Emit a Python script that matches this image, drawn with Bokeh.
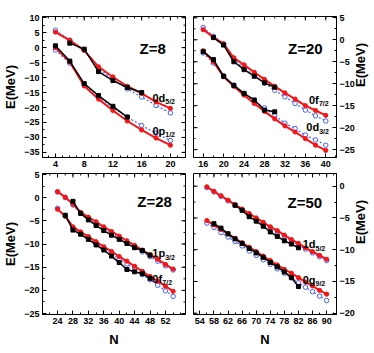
import math
import numpy as np
from bokeh.plotting import figure
from bokeh.layouts import row, column
from bokeh.models import Range1d, FixedTicker, Label
from bokeh.embed import file_html
from bokeh.resources import INLINE

FONT = "Liberation Sans"
RED = "#f51515"
BLUE = "#4060ff"

# ---------------- Z = 8 ----------------
n8 = [4, 6, 8, 10, 12, 14, 16, 18, 20]
z8_d52_th = [5.2, 2.4, -0.9, -6.4, -9.8, -12.9, -15.3, -18.1, -20.3]
z8_d52_ref = [5.8, 2.5, -0.8, -7.0, -10.5, -13.8, -16.5, -19.3, -21.8]
n8_d52_exp = [6, 8, 10, 12, 14, 16]
z8_d52_exp = [1.5, -0.5, -8.0, -11.0, -13.3, -15.0]
z8_p12_th = [0.0, -4.8, -12.8, -17.2, -21.0, -24.5, -27.5, -30.2, -32.6]
z8_p12_ref = [-0.8, -5.2, -12.2, -16.5, -20.0, -23.2, -26.0, -28.6, -31.0]
n8_p12_exp = [4, 6, 8, 10, 12, 14]
z8_p12_exp = [0.6, -4.5, -12.0, -16.0, -19.6, -23.2]

# ---------------- Z = 20 ----------------
n20 = [16, 18, 20, 22, 24, 26, 28, 30, 32, 34, 36, 38, 40]
z20_f72_th = [2.3, 0.6, -0.9, -4.1, -5.7, -7.4, -9.0, -10.6, -12.1, -13.5, -15.0, -16.1, -17.2]
z20_f72_ref = [2.8, 0.8, -1.0, -4.5, -6.5, -8.0, -9.8, -11.5, -13.0, -14.5, -16.0, -17.3, -18.5]
n20_f72_exp = [18, 20, 22, 24, 26, 28, 30]
z20_f72_exp = [0.5, -1.2, -5.0, -6.8, -8.3, -9.8, -10.8]
z20_d32_th = [-2.5, -5.0, -8.4, -10.6, -12.6, -14.5, -16.3, -18.0, -19.6, -21.0, -22.5, -24.0, -25.2]
z20_d32_ref = [-3.0, -5.3, -8.2, -10.3, -12.2, -14.0, -15.5, -17.2, -19.0, -20.2, -21.7, -22.8, -24.0]
n20_d32_exp = [16, 18, 20, 22, 24, 26, 28, 30]
z20_d32_exp = [-2.7, -4.5, -8.3, -10.4, -12.2, -13.7, -16.0, -16.4]

# ---------------- Z = 28 ----------------
n28 = [24, 26, 28, 30, 32, 34, 36, 38, 40, 42, 44, 46, 48, 50, 52, 54]
z28_p32_th = [1.3, 0.1, -1.4, -3.2, -4.2, -5.2, -6.3, -7.3, -8.3, -9.3, -10.3, -11.3, -12.3, -13.3, -14.4, -15.4]
z28_p32_ref = [1.2, 0.0, -1.6, -3.3, -4.4, -5.5, -6.6, -7.6, -8.7, -9.7, -10.7, -11.7, -12.7, -13.7, -14.7, -15.6]
n28_p32_exp = [28, 30, 32, 34, 36, 38, 40, 42, 44, 46, 48]
z28_p32_exp = [-0.8, -3.4, -4.8, -6.0, -7.1, -8.1, -9.0, -9.9, -10.8, -11.4, -12.4]
z28_f72_th = [-2.5, -4.0, -6.3, -7.4, -8.4, -9.5, -10.6, -11.6, -12.7, -13.7, -14.8, -15.9, -17.0, -18.0, -19.1, -20.2]
z28_f72_ref = [-2.3, -4.0, -6.5, -7.7, -8.8, -9.9, -11.0, -12.1, -13.2, -14.3, -15.4, -16.6, -17.7, -18.9, -20.1, -21.3]
n28_f72_exp = [26, 28, 30, 32, 34, 36, 38, 40, 42, 44, 46, 48]
z28_f72_exp = [-3.8, -7.0, -7.9, -9.0, -10.2, -11.3, -12.6, -14.0, -15.5, -16.0, -16.4, -17.4]

# ---------------- Z = 50 ----------------
n50 = [56, 58, 60, 62, 64, 66, 68, 70, 72, 74, 76, 78, 80, 82, 84, 86, 88, 90]
z50_d52_th = [-0.1, -0.8, -1.5, -2.2, -2.9, -3.6, -4.3, -5.0, -5.7, -6.4, -7.0, -7.7, -8.4, -9.0, -9.7, -10.3, -10.9, -11.5]
z50_d52_ref = [-0.2, -0.9, -1.6, -2.3, -3.0, -3.7, -4.4, -5.1, -5.8, -6.5, -7.2, -7.9, -8.6, -9.3, -9.9, -10.5, -11.1, -11.7]
n50_d52_exp = [64, 66, 68, 70, 72, 74, 76, 78, 80, 82]
z50_d52_exp = [-3.0, -3.8, -4.8, -5.5, -6.3, -7.2, -7.9, -8.6, -9.1, -9.7]
z50_g92_th = [-5.4, -6.1, -6.8, -7.5, -8.2, -8.9, -9.6, -10.3, -11.0, -11.7, -12.4, -13.1, -13.7, -14.4, -15.1, -15.7, -16.4, -17.0]
z50_g92_ref = [-5.8, -6.5, -7.3, -8.0, -8.7, -9.4, -10.2, -10.9, -11.6, -12.3, -13.0, -13.7, -14.4, -15.2, -15.9, -16.6, -17.3, -18.0]
n50_g92_exp = [58, 60, 62, 64, 66, 68, 70, 72, 74, 76, 78, 80, 82]
z50_g92_exp = [-5.9, -6.6, -7.5, -8.3, -9.0, -9.8, -10.5, -11.2, -12.0, -12.7, -13.5, -14.4, -15.8]

# tick labels
x8_ticks = [4, 8, 12, 16, 20]
x20_ticks = [16, 20, 24, 28, 32, 36, 40]
x28_ticks = [24, 28, 32, 36, 40, 44, 48, 52]
x50_ticks = [54, 58, 62, 66, 70, 74, 78, 82, 86, 90]
y8_ticks = [-35, -30, -25, -20, -15, -10, -5, 0, 5, 10]
y20_ticks = [-25, -20, -15, -10, -5, 0, 5]
y28_ticks = [-25, -20, -15, -10, -5, 0, 5]
y50_ticks = [-20, -15, -10, -5, 0]


def style_axis(ax, xaxis):
    ax.axis_line_color = "black"
    ax.axis_line_width = 1
    ax.major_tick_in = 4
    ax.major_tick_out = 0
    ax.minor_tick_in = 2
    ax.minor_tick_out = 0
    ax.major_tick_line_color = "black"
    ax.minor_tick_line_color = "black"
    ax.major_label_text_font = FONT
    ax.major_label_text_font_style = "bold"
    ax.major_label_text_font_size = "9px"
    ax.major_label_text_color = "black"
    ax.major_label_standoff = 3
    ax.axis_label_text_font = FONT
    ax.axis_label_text_font_style = "bold"
    ax.axis_label_text_font_size = "13px"
    ax.axis_label_text_color = "black"
    ax.axis_label_standoff = 5 if xaxis else 3


def mirror_ticks(p, pos, fixed, length, vertical_edge, angle):
    """Inward tick marks on the opposite frame edge (mirror of an axis)."""
    if vertical_edge:
        xs, ys = [fixed] * len(pos), list(pos)
    else:
        xs, ys = list(pos), [fixed] * len(pos)
    p.ray(x=xs, y=ys, length=length, angle=angle, length_units="screen",
          line_color="black", line_width=1)


def panel(xr, yr, xt, xm, yt, ym, side, xlabel, borders):
    l, r, t, b = borders
    p = figure(frame_width=143, frame_height=141,
               x_range=Range1d(*xr), y_range=Range1d(*yr),
               output_backend="svg", toolbar_location=None,
               y_axis_location=side,
               min_border_left=l, min_border_right=r,
               min_border_top=t, min_border_bottom=b)
    p.grid.visible = False
    p.outline_line_color = "black"
    p.outline_line_width = 1
    p.background_fill_color = "white"
    p.border_fill_color = "white"
    p.xaxis.ticker = FixedTicker(ticks=xt, minor_ticks=xm)
    p.yaxis.ticker = FixedTicker(ticks=yt, minor_ticks=ym)
    for ax in p.xaxis:
        style_axis(ax, True)
        if xlabel:
            ax.axis_label = "N"
    for ax in p.yaxis:
        style_axis(ax, False)
        ax.axis_label = "E(MeV)"
        if side == "right":
            ax.axis_label_orientation = math.pi / 2
    mirror_ticks(p, xt, yr[1], 4, False, -math.pi / 2)
    mirror_ticks(p, xm, yr[1], 2, False, -math.pi / 2)
    if side == "right":
        mirror_ticks(p, yt, xr[0], 4, True, 0)
        mirror_ticks(p, ym, xr[0], 2, True, 0)
    else:
        mirror_ticks(p, yt, xr[1], 4, True, math.pi)
        mirror_ticks(p, ym, xr[1], 2, True, math.pi)
    return p


def series(p, nx, ref, th, nexp, exp):
    p.line(nx, ref, line_color=BLUE, line_width=1.2, line_dash="2 2")
    p.scatter(nx, ref, marker="circle", size=4.5, line_color=BLUE, fill_color="white", line_width=1)
    p.line(nx, th, line_color=RED, line_width=2)
    p.scatter(nx, th, marker="circle", size=4.2, line_color=RED, fill_color=RED)
    p.line(nexp, exp, line_color="black", line_width=1.5)
    p.scatter(nexp, exp, marker="square", size=4, line_color="black", fill_color="black")


def lab(p, x, y, text, size, xo=0, yo=0):
    p.add_layout(Label(x=x, y=y, text=text, text_font=FONT, text_font_style="bold",
                       text_font_size=size, text_color="black", x_offset=xo, y_offset=yo,
                       text_baseline="alphabetic"))


def orb(p, x, y, main, sub, w):
    lab(p, x, y, main, "11px")
    lab(p, x, y, sub, "7px", xo=w, yo=-4)


tl = panel((2.2, 22.1), (-36.7, 10.4), x8_ticks, list(np.arange(3, 22, 1)),
           y8_ticks, list(np.arange(-35, 10.1, 2.5)), "left", False, (40, 4, 16, 14))
series(tl, n8, z8_d52_ref, z8_d52_th, n8_d52_exp, z8_d52_exp)
series(tl, n8, z8_p12_ref, z8_p12_th, n8_p12_exp, z8_p12_exp)
lab(tl, 15.7, -0.3, "Z=8", "15px")
orb(tl, 17.5, -16.7, "0d", "5/2", 12.8)
orb(tl, 17.5, -27.7, "0p", "1/2", 12.8)

tr = panel((14.1, 42.1), (-26.8, 5.3), x20_ticks, list(np.arange(14, 42.1, 2)),
           y20_ticks, list(np.arange(-25, 5.1, 2.5)), "right", False, (4, 40, 16, 14))
series(tr, n20, z20_f72_ref, z20_f72_th, n20_f72_exp, z20_f72_exp)
series(tr, n20, z20_d32_ref, z20_d32_th, n20_d32_exp, z20_d32_exp)
lab(tr, 32.6, -2.05, "Z=20", "15px")
orb(tr, 36.7, -13.7, "0f", "7/2", 10)
orb(tr, 36.2, -19.9, "0d", "3/2", 12.8)

bl = panel((20.1, 57.2), (-25.2, 5.2), x28_ticks, list(np.arange(22, 57, 2)),
           y28_ticks, list(np.arange(-25, 5.1, 2.5)), "left", True, (40, 4, 2, 38))
series(bl, n28, z28_p32_ref, z28_p32_th, n28_p32_exp, z28_p32_exp)
series(bl, n28, z28_f72_ref, z28_f72_th, n28_f72_exp, z28_f72_exp)
lab(bl, 44.7, -0.73, "Z=28", "15px")
orb(bl, 48.6, -12.0, "1p", "3/2", 12.8)
orb(bl, 48.6, -17.5, "0f", "7/2", 10)

br = panel((52.2, 92.8), (-20.2, 2.0), x50_ticks, list(np.arange(54, 92.1, 2)),
           y50_ticks, list(np.arange(-20, 2.1, 2.5)), "right", True, (4, 40, 2, 38))
series(br, n50, z50_d52_ref, z50_d52_th, n50_d52_exp, z50_d52_exp)
series(br, n50, z50_g92_ref, z50_g92_th, n50_g92_exp, z50_g92_exp)
lab(br, 78.9, -2.5, "Z=50", "15px")
orb(br, 83.2, -9.1, "1d", "5/2", 12.8)
orb(br, 83.2, -14.7, "0g", "9/2", 12.8)

layout = column(row(tl, tr), row(bl, br))
open("out.html", "w").write(file_html(layout, INLINE))
